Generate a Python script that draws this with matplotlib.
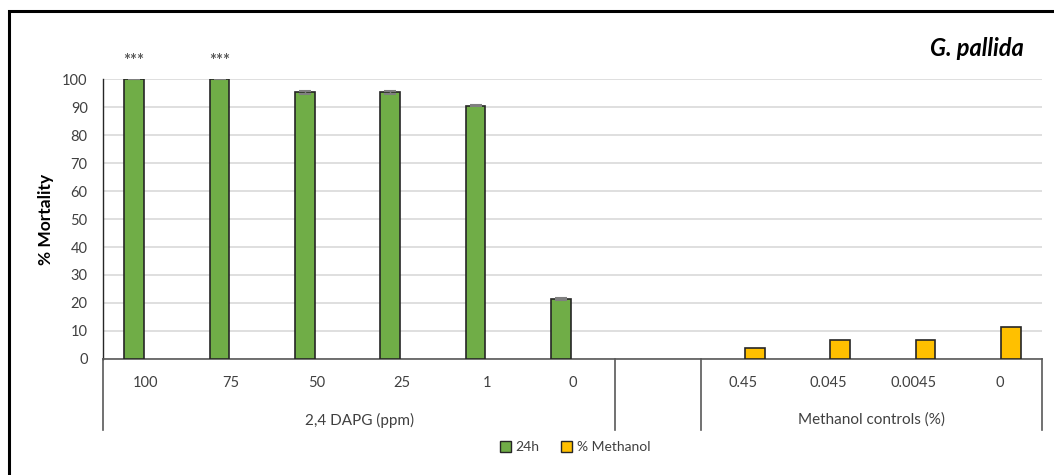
import matplotlib.pyplot as plt
import numpy as np
from matplotlib.patches import Rectangle, Patch
from matplotlib.lines import Line2D

plt.rcParams['font.family'] = ['Lato', 'DejaVu Sans']

# category slots: 6 DAPG doses, one empty spacer, 4 methanol controls
categories = ['100', '75', '50', '25', '1', '0', '', '0.45', '0.045', '0.0045', '0']
groups = ['2,4 DAPG (ppm)', '', 'Methanol controls (%)']
group_sizes = [6, 1, 4]

mort_24h = [100, 100, 95.2, 95.2, 90.5, 21.4, None, None, None, None, None]
err_24h = [0, 0, 0.4, 0.4, 0.3, 0.4, 0, 0, 0, 0, 0]
mort_meoh = [None, None, None, None, None, None, None, 3.8, 6.9, 6.9, 11.3]
signif = ['***', '***', '', '', '', '', '', '', '', '', '']

green = '#70AD47'
yellow = '#FFC000'
edge = '#262626'
txt = '#404040'

fig = plt.figure(figsize=(10.54, 4.75), dpi=100)
ax = fig.add_axes([103/1054, 1-359/475, (1042-103)/1054, (359-79)/475])

x = np.arange(len(categories))
w = 0.23
off = 0.135

g_idx = [i for i, v in enumerate(mort_24h) if v is not None]
ax.bar(x[g_idx] - off, [mort_24h[i] for i in g_idx], w, color=green,
       edgecolor=edge, linewidth=1.2, zorder=3)
ax.errorbar(x[g_idx] - off, [mort_24h[i] for i in g_idx],
            yerr=[err_24h[i] for i in g_idx], fmt='none', ecolor='#7f7f7f',
            capsize=4, elinewidth=1, capthick=1.5, zorder=4)
m_idx = [i for i, v in enumerate(mort_meoh) if v is not None]
ax.bar(x[m_idx] + off, [mort_meoh[i] for i in m_idx], w, color=yellow,
       edgecolor=edge, linewidth=1.2, zorder=3)

for i, s in enumerate(signif):
    if s:
        ax.text(x[i] - off, 106.5, s, ha='center', va='center', fontsize=12,
                fontweight='bold', color='#595959', clip_on=False)

ax.set_xlim(-0.5, len(categories) - 0.5)
ax.set_ylim(0, 100)
ax.set_yticks(np.arange(0, 101, 10))
ax.yaxis.grid(True, color='#d9d9d9', linewidth=1.2, zorder=0)
ax.set_axisbelow(True)
ax.tick_params(axis='y', length=0, pad=11, labelsize=10.5, labelcolor=txt)
ax.tick_params(axis='x', length=0)
ax.set_xticks([])
for s in ['top', 'right']:
    ax.spines[s].set_visible(False)
ax.spines['bottom'].set_color('#595959')
ax.spines['bottom'].set_linewidth(1.2)
ax.spines['left'].set_color('#262626')
ax.spines['left'].set_linewidth(1.0)
ax.set_ylabel('% Mortality', fontsize=12.5, fontweight='bold', color='black', labelpad=6)

# multi-level category axis
trans = ax.get_xaxis_transform()
for i, c in enumerate(categories):
    ax.text(x[i], -0.085, c, transform=trans, ha='center', va='center',
            fontsize=10.5, color=txt)
edges = np.concatenate([[0], np.cumsum(group_sizes)]) - 0.5
for e in edges:
    ax.add_line(Line2D([e, e], [0, -0.254], transform=trans, color='#595959',
                       linewidth=1.2, clip_on=False))
for gname, a, b in zip(groups, edges[:-1], edges[1:]):
    if gname:
        ax.text((a + b) / 2, -0.218, gname, transform=trans, ha='center',
                va='center', fontsize=11, color=txt)

fig.text(1024/1054, 1-49/475, 'G. pallida', ha='right', va='center',
         fontsize=17, fontweight='bold', fontstyle='italic', color='black')

handles = [Patch(facecolor=green, edgecolor=edge, label='24h'),
           Patch(facecolor=yellow, edgecolor=edge, label='% Methanol')]
fig.legend(handles=handles, loc='center', bbox_to_anchor=(575/1054, 1-447/475),
           ncol=2, frameon=False, fontsize=10, handlelength=0.8, handleheight=0.8,
           handletextpad=0.3, columnspacing=1.6, labelcolor=txt)

fig.patches.append(Rectangle((9/1054, -0.1), 1.2, (1-11/475) + 0.1,
                             transform=fig.transFigure, fill=False,
                             edgecolor='black', linewidth=2.2))

fig.savefig('out.png', dpi=100)
